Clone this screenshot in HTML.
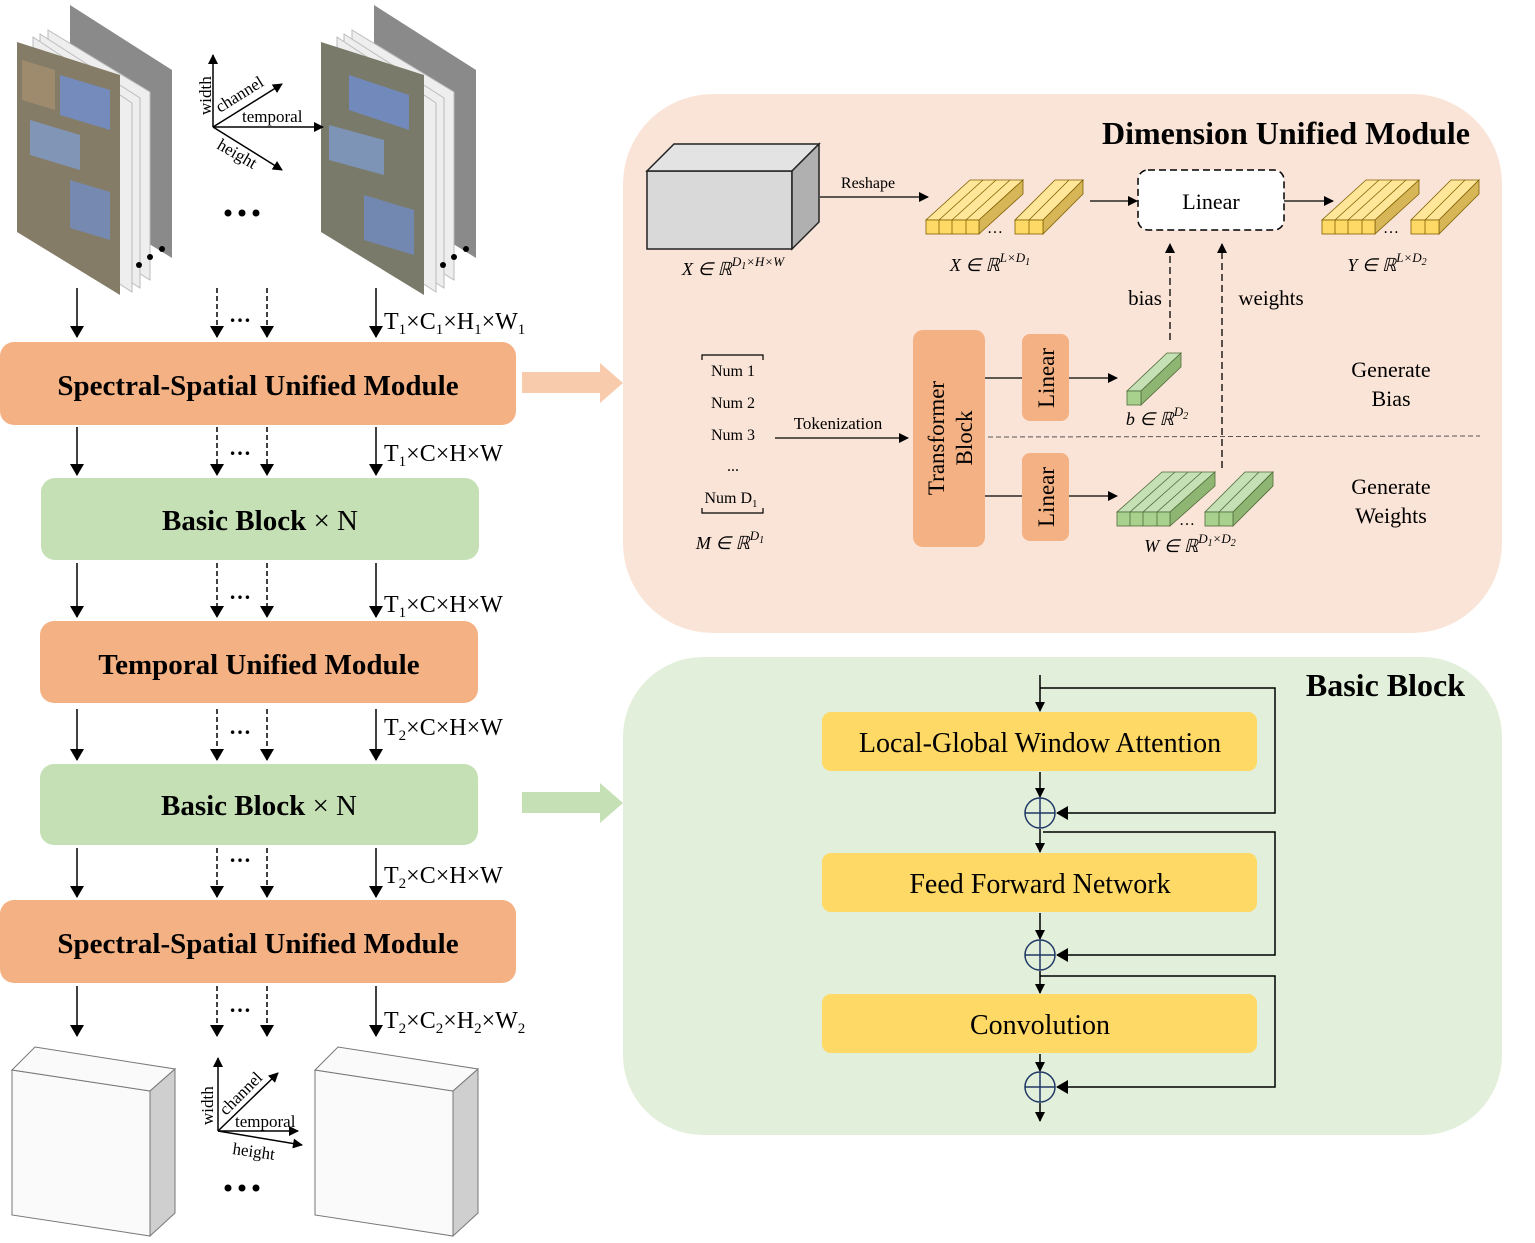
<!DOCTYPE html>
<html><head><meta charset="utf-8"><style>
html,body{margin:0;padding:0;background:#fff}
svg{display:block}
text{font-family:"Liberation Serif",serif;fill:#000}
</style></head><body>
<svg width="1535" height="1243" viewBox="0 0 1535 1243" xmlns="http://www.w3.org/2000/svg">
<defs>
<marker id="ah" markerWidth="10" markerHeight="10" refX="9" refY="5" orient="auto" markerUnits="userSpaceOnUse"><path d="M0,0 L10,5 L0,10 z" fill="#000"/></marker>
<marker id="ahs" markerWidth="12" markerHeight="14" refX="11" refY="7" orient="auto" markerUnits="userSpaceOnUse"><path d="M0,0 L12,7 L0,14 z" fill="#000"/></marker>
</defs>

<rect x="623" y="94" width="879" height="539" rx="90" fill="#fae4d7"/>
<rect x="623" y="657" width="879" height="478" rx="80" fill="#e2efda"/>

<g>
<polygon points="70,5 172,70 172,258 70,195" fill="#8a8a8a"/>
<polygon points="48,30 150,92 150,280 48,217" fill="#eee" stroke="#bbb"/>
<polygon points="40,34 140,98 140,288 40,224" fill="#eee" stroke="#bbb"/>
<polygon points="33,37 132,103 132,292 33,228" fill="#eee" stroke="#bbb"/>
<polygon points="17,42 120,75 120,295 17,232" fill="#857c68"/>
<polygon points="60,75 110,90 110,130 60,115" fill="#6f8fcf" opacity="0.8"/>
<polygon points="30,120 80,135 80,170 30,155" fill="#7f9fd9" opacity="0.7"/>
<polygon points="70,180 110,192 110,240 70,228" fill="#6f8fcf" opacity="0.7"/>
<polygon points="22,60 55,70 55,110 22,100" fill="#a8916f" opacity="0.7"/>
</g>
<g transform="translate(304,0)">
<polygon points="70,5 172,70 172,258 70,195" fill="#8a8a8a"/>
<polygon points="48,30 150,92 150,280 48,217" fill="#eee" stroke="#bbb"/>
<polygon points="40,34 140,98 140,288 40,224" fill="#eee" stroke="#bbb"/>
<polygon points="33,37 132,103 132,292 33,228" fill="#eee" stroke="#bbb"/>
<polygon points="17,42 120,75 120,295 17,232" fill="#7a7a6a"/>
<polygon points="45,75 105,95 105,130 45,110" fill="#6f8fcf" opacity="0.8"/>
<polygon points="25,125 80,140 80,175 25,160" fill="#7f9fd9" opacity="0.7"/>
<polygon points="60,195 110,210 110,255 60,240" fill="#6f8fcf" opacity="0.7"/>
</g>
<circle cx="139" cy="265" r="3" fill="#000"/><circle cx="150" cy="257" r="3" fill="#000"/><circle cx="162" cy="249" r="3" fill="#000"/>
<circle cx="443" cy="265" r="3" fill="#000"/><circle cx="454" cy="257" r="3" fill="#000"/><circle cx="466" cy="249" r="3" fill="#000"/>

<g stroke="#000" stroke-width="1.5">
<line x1="213" y1="127" x2="213" y2="55" marker-end="url(#ah)"/>
<line x1="213" y1="127" x2="282" y2="84" marker-end="url(#ah)"/>
<line x1="213" y1="127" x2="323" y2="127" marker-end="url(#ah)"/>
<line x1="213" y1="127" x2="282" y2="170" marker-end="url(#ah)"/>
</g>
<text x="211" y="115" font-size="17" transform="rotate(-90 211 115)">width</text>
<text x="220" y="113" font-size="17" transform="rotate(-32 220 113)">channel</text>
<text x="242" y="122" font-size="17">temporal</text>
<text x="216" y="148" font-size="17" transform="rotate(30 216 148)">height</text>
<circle cx="228" cy="213" r="3.5" fill="#000"/><circle cx="242" cy="213" r="3.5" fill="#000"/><circle cx="256" cy="213" r="3.5" fill="#000"/>

<g stroke="#000" stroke-width="1.5">
<line x1="77" y1="288" x2="77" y2="337" marker-end="url(#ahs)"/>
<line x1="217" y1="288" x2="217" y2="337" stroke-dasharray="5,3" marker-end="url(#ahs)"/>
<line x1="267" y1="288" x2="267" y2="337" stroke-dasharray="5,3" marker-end="url(#ahs)"/>
<line x1="376" y1="288" x2="376" y2="337" marker-end="url(#ahs)"/>
<line x1="77" y1="427" x2="77" y2="475" marker-end="url(#ahs)"/>
<line x1="217" y1="427" x2="217" y2="475" stroke-dasharray="5,3" marker-end="url(#ahs)"/>
<line x1="267" y1="427" x2="267" y2="475" stroke-dasharray="5,3" marker-end="url(#ahs)"/>
<line x1="376" y1="427" x2="376" y2="475" marker-end="url(#ahs)"/>
<line x1="77" y1="563" x2="77" y2="617" marker-end="url(#ahs)"/>
<line x1="217" y1="563" x2="217" y2="617" stroke-dasharray="5,3" marker-end="url(#ahs)"/>
<line x1="267" y1="563" x2="267" y2="617" stroke-dasharray="5,3" marker-end="url(#ahs)"/>
<line x1="376" y1="563" x2="376" y2="617" marker-end="url(#ahs)"/>
<line x1="77" y1="709" x2="77" y2="760" marker-end="url(#ahs)"/>
<line x1="217" y1="709" x2="217" y2="760" stroke-dasharray="5,3" marker-end="url(#ahs)"/>
<line x1="267" y1="709" x2="267" y2="760" stroke-dasharray="5,3" marker-end="url(#ahs)"/>
<line x1="376" y1="709" x2="376" y2="760" marker-end="url(#ahs)"/>
<line x1="77" y1="848" x2="77" y2="897" marker-end="url(#ahs)"/>
<line x1="217" y1="848" x2="217" y2="897" stroke-dasharray="5,3" marker-end="url(#ahs)"/>
<line x1="267" y1="848" x2="267" y2="897" stroke-dasharray="5,3" marker-end="url(#ahs)"/>
<line x1="376" y1="848" x2="376" y2="897" marker-end="url(#ahs)"/>
<line x1="77" y1="986" x2="77" y2="1036" marker-end="url(#ahs)"/>
<line x1="217" y1="986" x2="217" y2="1036" stroke-dasharray="5,3" marker-end="url(#ahs)"/>
<line x1="267" y1="986" x2="267" y2="1036" stroke-dasharray="5,3" marker-end="url(#ahs)"/>
<line x1="376" y1="986" x2="376" y2="1036" marker-end="url(#ahs)"/>
</g>
<g font-size="22" font-weight="bold">
<text x="229" y="322">…</text><text x="229" y="455">…</text><text x="229" y="599">…</text><text x="229" y="734">…</text><text x="229" y="862">…</text><text x="229" y="1012">…</text>
</g>
<g font-size="24">
<text x="384" y="329">T<tspan font-size="15" dy="5">1</tspan><tspan dy="-5">×C</tspan><tspan font-size="15" dy="5">1</tspan><tspan dy="-5">×H</tspan><tspan font-size="15" dy="5">1</tspan><tspan dy="-5">×W</tspan><tspan font-size="15" dy="5">1</tspan></text>
<text x="384" y="461">T<tspan font-size="15" dy="5">1</tspan><tspan dy="-5">×C×H×W</tspan></text>
<text x="384" y="612">T<tspan font-size="15" dy="5">1</tspan><tspan dy="-5">×C×H×W</tspan></text>
<text x="384" y="735">T<tspan font-size="15" dy="5">2</tspan><tspan dy="-5">×C×H×W</tspan></text>
<text x="384" y="883">T<tspan font-size="15" dy="5">2</tspan><tspan dy="-5">×C×H×W</tspan></text>
<text x="384" y="1028">T<tspan font-size="15" dy="5">2</tspan><tspan dy="-5">×C</tspan><tspan font-size="15" dy="5">2</tspan><tspan dy="-5">×H</tspan><tspan font-size="15" dy="5">2</tspan><tspan dy="-5">×W</tspan><tspan font-size="15" dy="5">2</tspan></text>
</g>

<rect x="0" y="342" width="516" height="83" rx="14" fill="#f4b183"/>
<rect x="41" y="478" width="438" height="82" rx="14" fill="#c5e0b4"/>
<rect x="40" y="621" width="438" height="82" rx="14" fill="#f4b183"/>
<rect x="40" y="764" width="438" height="81" rx="14" fill="#c5e0b4"/>
<rect x="0" y="900" width="516" height="83" rx="14" fill="#f4b183"/>
<g font-size="29" text-anchor="middle" font-weight="bold">
<text x="258" y="395">Spectral-Spatial Unified Module</text>
<text x="260" y="530">Basic Block <tspan font-weight="normal">× N</tspan></text>
<text x="259" y="674">Temporal Unified Module</text>
<text x="259" y="815">Basic Block <tspan font-weight="normal">× N</tspan></text>
<text x="258" y="953">Spectral-Spatial Unified Module</text>
</g>

<polygon points="522,372 600,372 600,363 623,383 600,403 600,393 522,393" fill="#f8cbad"/>
<polygon points="522,792 600,792 600,783 623,803 600,823 600,813 522,813" fill="#c5e0b4"/>

<g stroke="#777" stroke-width="1">
<polygon points="12,1070 150,1091 150,1236 12,1215" fill="#fafafa"/>
<polygon points="12,1070 35,1047 175,1069 150,1091" fill="#fafafa"/>
<polygon points="150,1091 175,1069 175,1213 150,1236" fill="#cfcfcf"/>
<g transform="translate(303,0)">
<polygon points="12,1070 150,1091 150,1236 12,1215" fill="#fafafa"/>
<polygon points="12,1070 35,1047 175,1069 150,1091" fill="#fafafa"/>
<polygon points="150,1091 175,1069 175,1213 150,1236" fill="#cfcfcf"/>
</g>
</g>
<g stroke="#000" stroke-width="1.5">
<line x1="218" y1="1131" x2="218" y2="1058" marker-end="url(#ah)"/>
<line x1="218" y1="1131" x2="278" y2="1073" marker-end="url(#ah)"/>
<line x1="218" y1="1131" x2="298" y2="1131" marker-end="url(#ah)"/>
<line x1="218" y1="1131" x2="302" y2="1145" marker-end="url(#ah)"/>
</g>
<text x="213" y="1125" font-size="17" transform="rotate(-90 213 1125)">width</text>
<text x="226" y="1116" font-size="17" transform="rotate(-45 226 1116)">channel</text>
<text x="235" y="1127" font-size="17">temporal</text>
<text x="232" y="1154" font-size="17" transform="rotate(8 232 1154)">height</text>
<circle cx="228" cy="1188" r="3.5" fill="#000"/><circle cx="242" cy="1188" r="3.5" fill="#000"/><circle cx="256" cy="1188" r="3.5" fill="#000"/>

<text x="1470" y="144" font-size="32" font-weight="bold" text-anchor="end">Dimension Unified Module</text>
<g stroke="#222" stroke-width="1.5">
<polygon points="647,171 792,171 792,249 647,249" fill="#d9d9d9"/>
<polygon points="647,171 674,144 819,144 792,171" fill="#e3e3e3"/>
<polygon points="792,171 819,144 819,222 792,249" fill="#b0b0b0"/>
</g>
<text x="733" y="275" font-size="18" font-style="italic" text-anchor="middle">X ∈ ℝ<tspan font-size="13" dy="-9">D<tspan font-size="10" dy="3">1</tspan><tspan dy="-3">×H×W</tspan></tspan></text>
<line x1="820" y1="197" x2="928" y2="197" stroke="#000" stroke-width="1.3" marker-end="url(#ah)"/>
<text x="868" y="188" font-size="16" text-anchor="middle">Reshape</text>

<g stroke="#7f6000" stroke-width="0.8">
<polygon points="926,220 979,220 1023,180 970,180" fill="#ffe699"/>
<polygon points="979,220 979,234 1023,194 1023,180" fill="#d6b656"/>
<rect x="926" y="220" width="53" height="14" fill="#ffd966"/>
<path d="M939,220v14M952,220v14M966,220v14M939,220L983,180M952,220L996,180M966,220L1010,180" fill="none"/>
<polygon points="1015,220 1043,220 1083,180 1055,180" fill="#ffe699"/>
<polygon points="1043,220 1043,234 1083,194 1083,180" fill="#d6b656"/>
<rect x="1015" y="220" width="28" height="14" fill="#ffd966"/>
<path d="M1029,220v14M1029,220L1069,180" fill="none"/>
<polygon points="1322,220 1375,220 1419,180 1366,180" fill="#ffe699"/>
<polygon points="1375,220 1375,234 1419,194 1419,180" fill="#d6b656"/>
<rect x="1322" y="220" width="53" height="14" fill="#ffd966"/>
<path d="M1335,220v14M1348,220v14M1362,220v14M1335,220L1379,180M1348,220L1392,180M1362,220L1406,180" fill="none"/>
<polygon points="1411,220 1439,220 1479,180 1451,180" fill="#ffe699"/>
<polygon points="1439,220 1439,234 1479,194 1479,180" fill="#d6b656"/>
<rect x="1411" y="220" width="28" height="14" fill="#ffd966"/>
<path d="M1425,220v14M1425,220L1465,180" fill="none"/>
</g>
<text x="987" y="233" font-size="16">…</text>
<text x="1383" y="233" font-size="16">…</text>
<text x="990" y="271" font-size="18" font-style="italic" text-anchor="middle">X ∈ ℝ<tspan font-size="13" dy="-9">L×D<tspan font-size="10" dy="3">1</tspan></tspan></text>
<text x="1387" y="271" font-size="18" font-style="italic" text-anchor="middle">Y ∈ ℝ<tspan font-size="13" dy="-9">L×D<tspan font-size="10" dy="3">2</tspan></tspan></text>

<line x1="1090" y1="201" x2="1137" y2="201" stroke="#000" stroke-width="1.3" marker-end="url(#ah)"/>
<rect x="1138" y="170" width="146" height="60" rx="10" fill="#fff" stroke="#000" stroke-width="1.5" stroke-dasharray="7,4"/>
<text x="1211" y="209" font-size="22" text-anchor="middle">Linear</text>
<line x1="1284" y1="201" x2="1333" y2="201" stroke="#000" stroke-width="1.3" marker-end="url(#ah)"/>

<g stroke="#000" stroke-width="1.3" stroke-dasharray="7,4">
<line x1="1170" y1="340" x2="1170" y2="244" marker-end="url(#ah)"/>
<line x1="1222" y1="468" x2="1222" y2="244" marker-end="url(#ah)"/>
</g>
<text x="1145" y="305" font-size="21" text-anchor="middle">bias</text>
<text x="1271" y="305" font-size="21" text-anchor="middle">weights</text>

<path d="M702,360 V355 H763 V360" fill="none" stroke="#000" stroke-width="1.2"/>
<path d="M702,508 V513 H763 V508" fill="none" stroke="#000" stroke-width="1.2"/>
<g font-size="16" text-anchor="middle">
<text x="733" y="376">Num 1</text>
<text x="733" y="408">Num 2</text>
<text x="733" y="440">Num 3</text>
<text x="733" y="471">...</text>
<text x="731" y="503">Num D<tspan font-size="11" dy="4">1</tspan></text>
</g>
<text x="730" y="549" font-size="18" font-style="italic" text-anchor="middle">M ∈ ℝ<tspan font-size="13" dy="-9">D<tspan font-size="10" dy="3">1</tspan></tspan></text>
<line x1="775" y1="438" x2="908" y2="438" stroke="#000" stroke-width="1.3" marker-end="url(#ah)"/>
<text x="838" y="429" font-size="17" text-anchor="middle">Tokenization</text>

<rect x="913" y="330" width="72" height="217" rx="10" fill="#f4b183"/>
<text transform="translate(944,438) rotate(-90)" font-size="23" text-anchor="middle">Transformer</text>
<text transform="translate(972,438) rotate(-90)" font-size="23" text-anchor="middle">Block</text>
<rect x="1022" y="334" width="47" height="87" rx="8" fill="#f4b183"/>
<rect x="1022" y="453" width="47" height="88" rx="8" fill="#f4b183"/>
<text transform="translate(1054,378) rotate(-90)" font-size="23" text-anchor="middle">Linear</text>
<text transform="translate(1054,497) rotate(-90)" font-size="23" text-anchor="middle">Linear</text>
<g stroke="#000" stroke-width="1.3">
<line x1="985" y1="378" x2="1022" y2="378"/>
<line x1="985" y1="496" x2="1022" y2="496"/>
<line x1="1069" y1="378" x2="1117" y2="378" marker-end="url(#ah)"/>
<line x1="1069" y1="496" x2="1117" y2="496" marker-end="url(#ah)"/>
</g>
<line x1="988" y1="437" x2="1480" y2="436" stroke="#555" stroke-width="1" stroke-dasharray="5,3"/>

<g stroke="#4f6b3a" stroke-width="0.8">
<polygon points="1127,391 1141,391 1181,353 1167,353" fill="#c5e0b4"/>
<polygon points="1141,391 1141,405 1181,367 1181,353" fill="#8fb573"/>
<rect x="1127" y="391" width="14" height="14" fill="#a9d18e"/>
<polygon points="1117,512 1170,512 1215,472 1162,472" fill="#c5e0b4"/>
<polygon points="1170,512 1170,526 1215,486 1215,472" fill="#8fb573"/>
<rect x="1117" y="512" width="53" height="14" fill="#a9d18e"/>
<path d="M1130,512v14M1143,512v14M1157,512v14M1130,512L1175,472M1143,512L1188,472M1157,512L1202,472" fill="none"/>
<polygon points="1205,512 1233,512 1273,472 1245,472" fill="#c5e0b4"/>
<polygon points="1233,512 1233,526 1273,486 1273,472" fill="#8fb573"/>
<rect x="1205" y="512" width="28" height="14" fill="#a9d18e"/>
<path d="M1219,512v14M1219,512L1259,472" fill="none"/>
</g>
<text x="1179" y="525" font-size="16">…</text>
<text x="1157" y="425" font-size="18" font-style="italic" text-anchor="middle">b ∈ ℝ<tspan font-size="13" dy="-9">D<tspan font-size="10" dy="3">2</tspan></tspan></text>
<text x="1190" y="552" font-size="18" font-style="italic" text-anchor="middle">W ∈ ℝ<tspan font-size="13" dy="-9">D<tspan font-size="10" dy="3">1</tspan><tspan dy="-3">×D</tspan><tspan font-size="10" dy="3">2</tspan></tspan></text>
<g font-size="22" text-anchor="middle">
<text x="1391" y="377">Generate</text><text x="1391" y="406">Bias</text>
<text x="1391" y="494">Generate</text><text x="1391" y="523">Weights</text>
</g>

<text x="1465" y="696" font-size="32" font-weight="bold" text-anchor="end">Basic Block</text>
<rect x="822" y="712" width="435" height="59" rx="9" fill="#ffd966"/>
<rect x="822" y="853" width="435" height="59" rx="9" fill="#ffd966"/>
<rect x="822" y="994" width="435" height="59" rx="9" fill="#ffd966"/>
<g font-size="28" text-anchor="middle">
<text x="1040" y="752">Local-Global Window Attention</text>
<text x="1040" y="893">Feed Forward Network</text>
<text x="1040" y="1034">Convolution</text>
</g>
<g stroke="#000" stroke-width="1.5" fill="none">
<line x1="1040" y1="675" x2="1040" y2="711" marker-end="url(#ah)"/>
<line x1="1040" y1="772" x2="1040" y2="797" marker-end="url(#ah)"/>
<line x1="1040" y1="829" x2="1040" y2="852" marker-end="url(#ah)"/>
<line x1="1040" y1="913" x2="1040" y2="939" marker-end="url(#ah)"/>
<line x1="1040" y1="971" x2="1040" y2="993" marker-end="url(#ah)"/>
<line x1="1040" y1="1054" x2="1040" y2="1071" marker-end="url(#ah)"/>
<line x1="1040" y1="1103" x2="1040" y2="1121" marker-end="url(#ah)"/>
<polyline points="1040,688 1275,688 1275,813 1057,813" marker-end="url(#ahs)"/>
<polyline points="1043,832 1275,832 1275,955 1057,955" marker-end="url(#ahs)"/>
<polyline points="1040,976 1275,976 1275,1087 1057,1087" marker-end="url(#ahs)"/>
</g>
<g stroke="#1f3864" stroke-width="1.5" fill="none">
<circle cx="1040" cy="813" r="15"/><path d="M1025,813H1055M1040,798V828"/>
<circle cx="1040" cy="955" r="15"/><path d="M1025,955H1055M1040,940V970"/>
<circle cx="1040" cy="1087" r="15"/><path d="M1025,1087H1055M1040,1072V1102"/>
</g>
</svg>
</body></html>
